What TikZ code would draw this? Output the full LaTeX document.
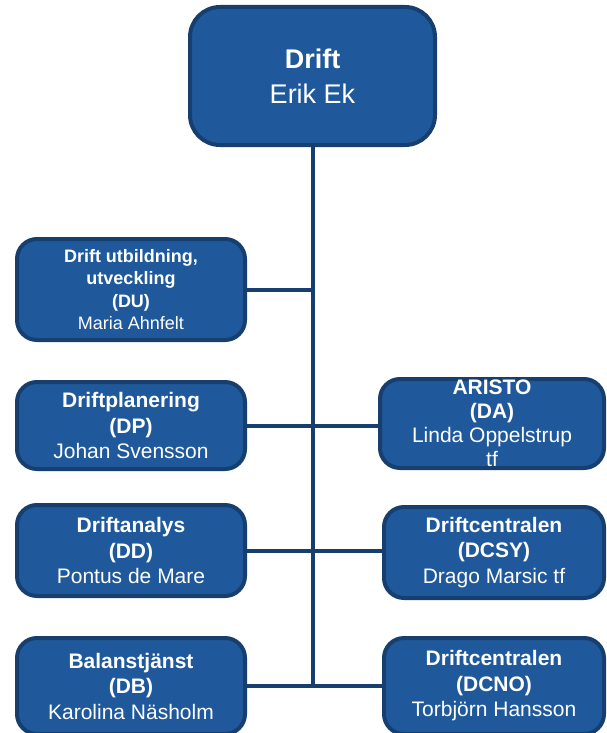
\documentclass[tikz,border=0pt]{standalone}
\usepackage{fontspec}
\setmainfont{Liberation Sans}
\usetikzlibrary{backgrounds}
\definecolor{boxfill}{RGB}{31,89,155}
\definecolor{boxline}{RGB}{22,63,111}
\begin{document}
\begin{tikzpicture}[x=1pt,y=-1pt,
  box/.style={draw=boxline, line width=4pt, fill=boxfill, rounded corners=20pt,
    text=white, align=center, inner sep=0pt,
    font=\fontsize{21}{25.5}\selectfont},
  topbox/.style={box, rounded corners=30pt, font=\fontsize{27}{35}\selectfont},
  smallbox/.style={box, font=\fontsize{18}{22.5}\selectfont},
  conn/.style={draw=boxline, line width=4pt}]
\clip (0,0) rectangle (607,733);
\node[topbox, minimum width=245pt, minimum height=138pt] (top) at (312.5,76)
  {\textbf{Drift}\\Erik Ek};
\node[smallbox, minimum width=228pt, minimum height=101pt] (du) at (131,289.5)
  {\textbf{Drift utbildning,}\\\textbf{utveckling}\\\textbf{(DU)}\\Maria Ahnfelt};
\node[box, minimum width=228pt, minimum height=87pt] (dp) at (131,425.5)
  {\textbf{Driftplanering}\\\textbf{(DP)}\\Johan Svensson};
\node[box, minimum width=224pt, minimum height=89pt, font=\fontsize{21}{24}\selectfont] (da) at (492,423.5)
  {\textbf{ARISTO}\\\textbf{(DA)}\\Linda Oppelstrup\\tf};
\node[box, minimum width=228pt, minimum height=91pt] (dd) at (131,550.5)
  {\textbf{Driftanalys}\\\textbf{(DD)}\\Pontus de Mare};
\node[box, minimum width=220pt, minimum height=91pt] (dcsy) at (494,552.5)
  {\textbf{Driftcentralen}\\\textbf{(DCSY)}\\Drago Marsic tf};
\node[box, minimum width=228pt, minimum height=96pt] (db) at (131,686)
  {\textbf{Balanstjänst}\\\textbf{(DB)}\\Karolina Näsholm};
\node[box, minimum width=220pt, minimum height=96pt] (dcno) at (494,686)
  {\textbf{Driftcentralen}\\\textbf{(DCNO)}\\Torbjörn Hansson};
\coordinate (bot) at (top.south |- db.east);
\begin{scope}[on background layer]
\draw[conn] (top.south) -- (bot);
\draw[conn] (du.east) -- (du.east -| top.south);
\draw[conn] (dp.east) -- (dp.east -| da.west);
\draw[conn] (dd.east) -- (dd.east -| dcsy.west);
\draw[conn] (db.east) -- (dcno.west);
\end{scope}
\end{tikzpicture}
\end{document}
